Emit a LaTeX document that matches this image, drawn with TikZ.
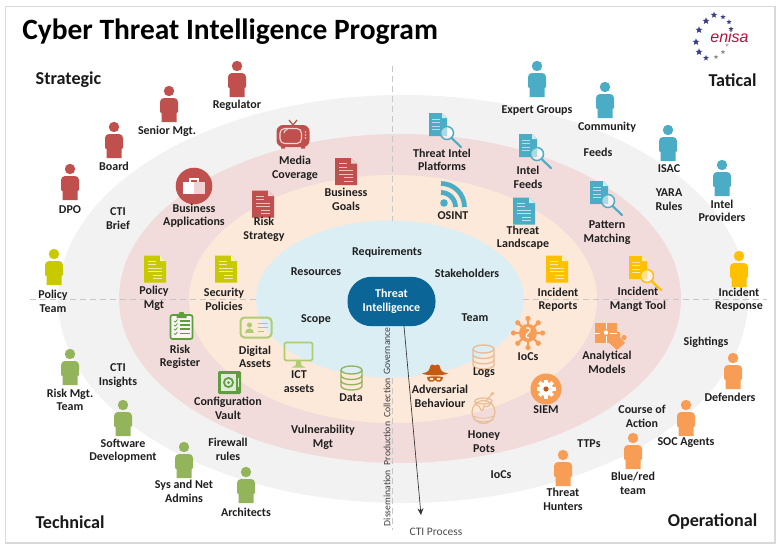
\documentclass[tikz,border=0pt]{standalone}
\usepackage{fontspec}
\setmainfont{Carlito}
\newfontfamily\logofont{Liberation Sans}
\usetikzlibrary{shapes.geometric,arrows.meta}
\definecolor{cgray}{HTML}{F2F2F2}
\definecolor{cpink}{HTML}{F2DCDB}
\definecolor{cpeach}{HTML}{FDE9D9}
\definecolor{cblue}{HTML}{DAEEF3}
\definecolor{cnavy}{HTML}{0B6596}
\definecolor{pred}{HTML}{C0504D}
\definecolor{plime}{HTML}{C9C900}
\definecolor{pgreen}{HTML}{93B45A}
\definecolor{pteal}{HTML}{4BACC6}
\definecolor{pyellow}{HTML}{FFC000}
\definecolor{porange}{HTML}{F79D55}
\definecolor{dgreen}{HTML}{5F9E3F}
\definecolor{lgreen}{HTML}{B0CC72}
\definecolor{lorange}{HTML}{E9BC94}
\definecolor{rust}{HTML}{C55A11}
\definecolor{enired}{HTML}{B5123E}
\definecolor{stara}{HTML}{3B3F87}
\tikzset{
  lab/.style={font=\fontsize{9}{10.1}\selectfont\bfseries,text=black!88,align=center,inner sep=0pt},
  corner/.style={font=\fontsize{13.6}{15}\selectfont\bfseries,text=black!90,inner sep=0pt},
  vertlab/.style={font=\fontsize{7.3}{9}\selectfont,text=black!75,rotate=90,inner sep=0pt},
  guide/.style={draw=black!22,dash pattern=on 4.5pt off 3pt,line width=0.6pt},
  star5/.style={star,star points=5,star point ratio=2.3,inner sep=0pt,minimum size=#1,fill=stara},
  person/.pic={
    \fill[#1] (0,0) circle (5.2);
    \fill[#1] (-9,21) [rounded corners=3pt] -- (-9,7) -- (9,7) [sharp corners] -- (9,21) -- (7.5,22) -- (7.5,31) -- (-7.5,31) -- (-7.5,22) -- cycle;
  },
  docicon/.pic={
    \fill[#1] (-11,-13.5) -- (5,-13.5) -- (11,-8) -- (11,13.5) -- (-11,13.5) -- cycle;
    \fill[white!75!#1] (5,-13.5) -- (11,-8) -- (5,-8) -- cycle;
    \foreach \ya/\xa/\xb in {-8/-7/1,-4.5/-7/1,-1/-7/7,2.5/-7/7,6/-2/7,9.5/-2/7}
      \draw[white!65!#1,line width=0.7pt] (\xa,\ya) -- (\xb,\ya);
  },
  searchdoc/.pic={
    \fill[#1] (0,0) -- (13,0) -- (18,5) -- (18,23) -- (0,23) -- cycle;
    \fill[white!75!#1] (13,0) -- (18,5) -- (13,5) -- cycle;
    \foreach \ya in {6,9.5,13,16.5} \draw[white!60!#1,line width=0.6pt] (3,\ya) -- (11,\ya);
    \draw[#1,line width=1.6pt,line cap=round] (22.5,25) -- (32,34);
    \fill[white,opacity=.55] (18,20) circle (6.5);
    \draw[#1,line width=1.1pt] (18,20) circle (6.5);
  },
  tvicon/.pic={
    \draw[pred,line width=0.9pt] (-4,-15) -- (0,-10) -- (4,-15);
    \fill[pred,rounded corners=5pt] (-16.5,-10) rectangle (16.5,12);
    \fill[pred] (-12,11) rectangle (-8,13.5) (8,11) rectangle (12,13.5);
    \draw[cpink,line width=0.8pt,rounded corners=3.5pt] (-13,-6.5) rectangle (8.5,8.5);
    \draw[cpink,line width=0.8pt] (-9,-2) arc (180:270:3.5);
    \foreach \ya in {-3,0,3} \fill[cpink] (12.5,\ya) circle (0.9);
  },
  caseicon/.pic={
    \fill[pred] (0,0) circle (18.3);
    \fill[white] (-11,-4) rectangle (11,8);
    \fill[white!75!pred] (0,-4) rectangle (11,8);
    \draw[white,line width=0.9pt] (-4,-4) -- (-4,-7) -- (4,-7) -- (4,-4);
  },
  rssicon/.pic={
    \fill[pteal] (3,-4) circle (3.8);
    \draw[pteal,line width=3.6pt] (0,-14.5) arc (270:360:14.5);
    \draw[pteal,line width=3.6pt] (0,-23.5) arc (270:360:23.5);
  },
  clipicon/.pic={
    \draw[dgreen,line width=1.3pt,rounded corners=1.5pt,fill=white!70!cpink] (0,3) rectangle (22,27);
    \fill[dgreen] (6,3) -- (8,3) -- (9,0) -- (13,0) -- (14,3) -- (16,3) -- (16,6) -- (6,6) -- cycle;
    \foreach \ya in {9,13,17,21.5} {
      \draw[dgreen,line width=0.6pt] (3.5,\ya) -- (5,\ya+1) -- (7,\ya-1.5);
      \draw[dgreen,line width=1.1pt] (9,\ya) -- (19,\ya);
    }
  },
  cardicon/.pic={
    \draw[lgreen,line width=1.5pt,rounded corners=3pt] (0,0) rectangle (31,20);
    \fill[lgreen] (9,7.5) circle (2.6);
    \fill[lgreen] (4.5,15) .. controls (4.5,9.5) and (13.5,9.5) .. (13.5,15) -- cycle;
    \foreach \ya/\xb in {6/27,10/27,14/23} \draw[lgreen,line width=1pt] (17,\ya) -- (\xb,\ya);
  },
  safeicon/.pic={
    \fill[dgreen,rounded corners=1pt] (0,0) rectangle (23,23);
    \fill[white!80!dgreen] (3,3) rectangle (18,20);
    \fill[dgreen] (10.5,11.5) circle (5.5);
    \fill[white!80!dgreen] (10.5,11.5) circle (3.5);
    \fill[dgreen] (10.5,11.5) circle (1.5);
    \fill[white!80!dgreen] (20,7) rectangle (21.2,16);
  },
  monicon/.pic={
    \draw[lgreen,line width=1.3pt,rounded corners=1pt] (0,0) rectangle (28,18);
    \fill[lgreen] (12,18) -- (16,18) -- (17,23) -- (21,25) -- (7,25) -- (11,23) -- cycle;
  },
  dbicon/.pic={
    \draw[#1,line width=1pt] (0,-8) ellipse (10.5 and 4);
    \draw[#1,line width=1pt] (-10.5,-8) -- (-10.5,8) arc (180:0:10.5 and 4) -- (10.5,-8);
    \draw[#1,line width=1pt] (-10.5,-2.5) arc (180:0:10.5 and 4);
    \draw[#1,line width=1pt] (-10.5,2.8) arc (180:0:10.5 and 4);
  },
  virusicon/.pic={
    \foreach \a in {0,45,...,315} {
      \draw[porange,line width=1.7pt] (0,0) -- (\a:14);
      \fill[porange] (\a:14.5) circle (2.6);
    }
    \fill[porange] (0,0) circle (9);
    \draw[white,line width=0.9pt] (-2,-5) .. controls (3,-6) and (3,-2) .. (0,0) .. controls (-3,2) and (-2,5) .. (1,5);
  },
  puzzleicon/.pic={
    \fill[porange] (0,0) rectangle (22,20);
    \fill[porange] (13,19) -- (23,12) -- (30,20) -- (22,27) -- cycle;
    \fill[porange] (22.5,11.5) circle (3);
    \fill[porange] (29,14.5) circle (2.6);
    \draw[white,line width=0.7pt] (11,0) -- (11,6) (11,13) -- (11,20) (0,10) -- (5,10) (15,10) -- (22,10);
    \fill[white] (11,9.5) circle (2.2);
  },
  siemicon/.pic={
    \fill[porange] (0,0) circle (15.5);
    \foreach \a in {0,45,...,315} \fill[white,rotate=\a] (-1.8,-9.5) rectangle (1.8,0);
    \fill[white] (0,0) circle (7);
    \fill[rust] (0,0) circle (2.6);
  },
  spyicon/.pic={
    \fill[rust] (-13,8.5) .. controls (-7,7) and (-6,6.5) .. (-5,2) .. controls (-4,-1) and (-3,-1) .. (0,0.5) .. controls (3,-1) and (4,-1) .. (5,2) .. controls (6,6.5) and (7,7) .. (13,8.5) .. controls (8,11) and (-8,11) .. (-13,8.5) -- cycle;
    \fill[rust] (-8,12) .. controls (-3,11) and (3,11) .. (8,12) .. controls (8,17) and (3,18.5) .. (0,15) .. controls (-3,18.5) and (-8,17) .. (-8,12) -- cycle;
    \fill[cpeach] (-3.5,14) ellipse (2 and 1.2);
    \fill[cpeach] (3.5,14) ellipse (2 and 1.2);
  },
  honeyicon/.pic={
    \draw[lorange,line width=0.9pt] (11.5,19) ellipse (11.5 and 11.5);
    \draw[lorange,line width=0.9pt] (11.5,8) ellipse (8.5 and 3);
    \draw[lorange,line width=0.9pt] (3,8) .. controls (4,15) and (7,11) .. (8,15) .. controls (9,19) and (12,18) .. (12,13) .. controls (15,15) and (18,13) .. (20,8);
    \draw[lorange,line width=0.9pt] (14,8) -- (20,1);
    \fill[lorange] (20.5,0.5) circle (1.8);
    \foreach \ya in {23,26.5} \draw[lorange,line width=0.6pt] (1.5,\ya) .. controls (7,\ya+3) and (16,\ya+3) .. (21.5,\ya);
  },
}
\begin{document}
\begin{tikzpicture}[x=0.75pt,y=-0.75pt]
\useasboundingbox (0,0) rectangle (781,550);
\fill[white] (0,0) rectangle (781,550);
\draw[black!15,line width=1.2pt] (5.5,6.5) rectangle (775,543);
% rings
\fill[cgray] (403,299) ellipse (345 and 204);
\fill[cpink] (400,298.5) ellipse (281 and 164.5);
\fill[cpeach] (393,299) ellipse (204 and 124);
\fill[cblue] (390,299) ellipse (134 and 78.5);
% guides
\coordinate (hla) at (30,299); \coordinate (hlb) at (256,299);
\coordinate (hra) at (523,299); \coordinate (hrb) at (767,299);
\coordinate (vta) at (392,66); \coordinate (vtb) at (392,221);
\coordinate (vba) at (392,378); \coordinate (vbb) at (392,530);
\draw[guide] (hla) -- (hlb);
\draw[guide] (hra) -- (hrb);
\draw[guide] (vta) -- (vtb);
\draw[guide] (vba) -- (vbb);
% title
\node[font=\fontsize{22.1}{26}\selectfont\bfseries,inner sep=0pt,anchor=west] (title) at (22,32) {Cyber Threat Intelligence Program};
\node[corner] (cstr) at (68.5,80) {Strategic};
\node[corner] (ctac) at (732.5,80) {Tatical};
\node[corner] (ctec) at (70,522) {Technical};
\node[corner] (cope) at (712.5,522) {Operational};
% logo
\foreach \n/\px/\py/\sz/\col in {a/714/15/5/stara,b/723/17/4/stara,c/729/22/4/stara,d/731/29/4/stara,e/706/21/5.5/stara,f/699/30/5.5/stara,g/696/42/5.5/stara,h/699/52/5.5/stara,i/706/58/4.5/stara,j/716/57/3.5/black!45,k/723/52/3.5/black!45,l/727/45/3/black!30}
  \node[star5=\sz pt,fill=\col] (st\n) at (\px,\py) {};
\node[font=\logofont\itshape\fontsize{12}{14}\selectfont,text=enired,inner sep=0pt] (enisa) at (729.5,37) {enisa};
% persons
\foreach \px/\py/\col in {237/66/pred,169/91/pred,114/127/pred,70/169/pred,54/254/plime,70/354/pgreen,123/405/pgreen,184/447/pgreen,246/472/pgreen,537/66/pteal,605/87/pteal,668/130/pteal,722/165/pteal,739/256/pyellow,733/358/porange,686/405/porange,633/438/porange,563/455/porange}
  \pic at (\px,\py) {person=\col};
% icons
\pic at (293,135) {tvicon};
\pic at (194,186) {caseicon};
\pic at (346,171.5) {docicon=pred};
\pic at (263,204) {docicon=pred};
\pic at (155,269) {docicon=plime};
\pic at (226,269) {docicon=plime};
\pic at (524,211) {docicon=pteal};
\pic at (557,269) {docicon=pyellow};
\pic at (429,113) {searchdoc=pteal};
\pic at (519,134) {searchdoc=pteal};
\pic at (590,181) {searchdoc=pteal};
\pic at (629,256) {searchdoc=pyellow};
\pic at (441,207) {rssicon};
\pic at (170.5,312) {clipicon};
\pic at (240.5,317.5) {cardicon};
\pic at (218,371) {safeicon};
\pic at (284.5,342.5) {monicon};
\pic at (351.5,378) {dbicon=pgreen};
\pic at (483.5,357) {dbicon=lorange};
\pic at (528,333) {virusicon};
\pic at (595,323) {puzzleicon};
\pic at (546,389) {siemicon};
\pic at (435,365) {spyicon};
\pic at (472,393) {honeyicon};
% core
\node[fill=cnavy,text=white,rounded corners=18pt,minimum width=66pt,minimum height=37pt,inner sep=0pt,align=center,font=\fontsize{9}{10.1}\selectfont\bfseries] (core) at (391.5,301.5) {Threat\\Intelligence};
\coordinate (cpend) at (421,515);
\draw[black!80,line width=0.5pt,-{Stealth[length=5pt,width=4.5pt]}] (404,326) -- (cpend);
% CTI process
\node[vertlab] (gov) at (387,351) {Governance};
\node[vertlab] (col) at (387,398) {Collection};
\node[vertlab] (pro) at (387,443.5) {Production};
\node[vertlab] (dis) at (387,498) {Dissemination};
\node[font=\fontsize{8.6}{9}\selectfont,text=black!70,inner sep=0pt] (ctip) at (436,532) {CTI Process};
% labels
\foreach \n/\px/\py/\t in {
 l1/237/105/Regulator, l2/167/131.5/Senior Mgt., l3/114/166/Board, l4/70/210/DPO,
 l5/118/218.5/CTI\\Brief, l6/194/215.5/Business\\Applications, l7/295/168.5/Media\\Coverage,
 l8/346/199.5/Business\\Goals, l9/264/229.5/Risk\\Strategy, l10/53/301.5/Policy\\Team,
 l11/154/298.5/Policy\\Mgt, l12/224/299.5/Security\\Policies, l13/316/272/Resources,
 l14/387/252/Requirements, l15/467/273/Stakeholders, l16/316/320/Scope, l17/475/318/Team,
 l18/180/357/Risk\\Register, l19/255/357/Digital\\Assets, l20/299/381.5/ICT\\assets, l21/351/398/Data,
 l22/118/375.5/CTI\\Insights, l23/70/400/Risk Mgt.\\Team, l24/228/408.5/Configuration\\Vault,
 l25/323/437.5/Vulnerability\\Mgt, l26/123/450.5/Software\\Development, l27/228/449.5/Firewall\\rules,
 l28/184/491.5/Sys and Net\\Admins, l29/246/512/Architects,
 l30/442/160/Threat Intel\\Platforms, l31/537/111/Expert Groups, l32/607/127/Community, l33/598/152/Feeds,
 l34/528/177.5/Intel\\Feeds, l35/669/169/ISAC, l36/669/199.5/YARA\\Rules, l37/722/211/Intel\\Providers,
 l38/453/216/OSINT, l39/523/237.5/Threat\\Landscape, l40/607/232.5/Pattern\\Matching,
 l41/558/299.5/Incident\\Reports, l42/638/299.5/Incident\\Mangt Tool, l43/739/299.5/Incident\\Response,
 l44/706/342/Sightings, l45/528/357/IoCs, l46/607/362.5/Analytical\\Models, l47/484/373/Logs,
 l48/440/396.5/Adversarial\\Behaviour, l49/546/410/SIEM, l50/730/397/Defenders, l51/642/416.5/Course of\\Action,
 l52/484/441.5/Honey\\Pots, l53/589/444/TTPs, l54/686/443/SOC Agents,
 l56/501/475/IoCs, l57/563/499.5/Threat\\Hunters}
 \node[lab] (\n) at (\px,\py) {\t};
\node[lab] (l55) at (633,483.5) {Blue/red\\team};
\end{tikzpicture}
\end{document}
